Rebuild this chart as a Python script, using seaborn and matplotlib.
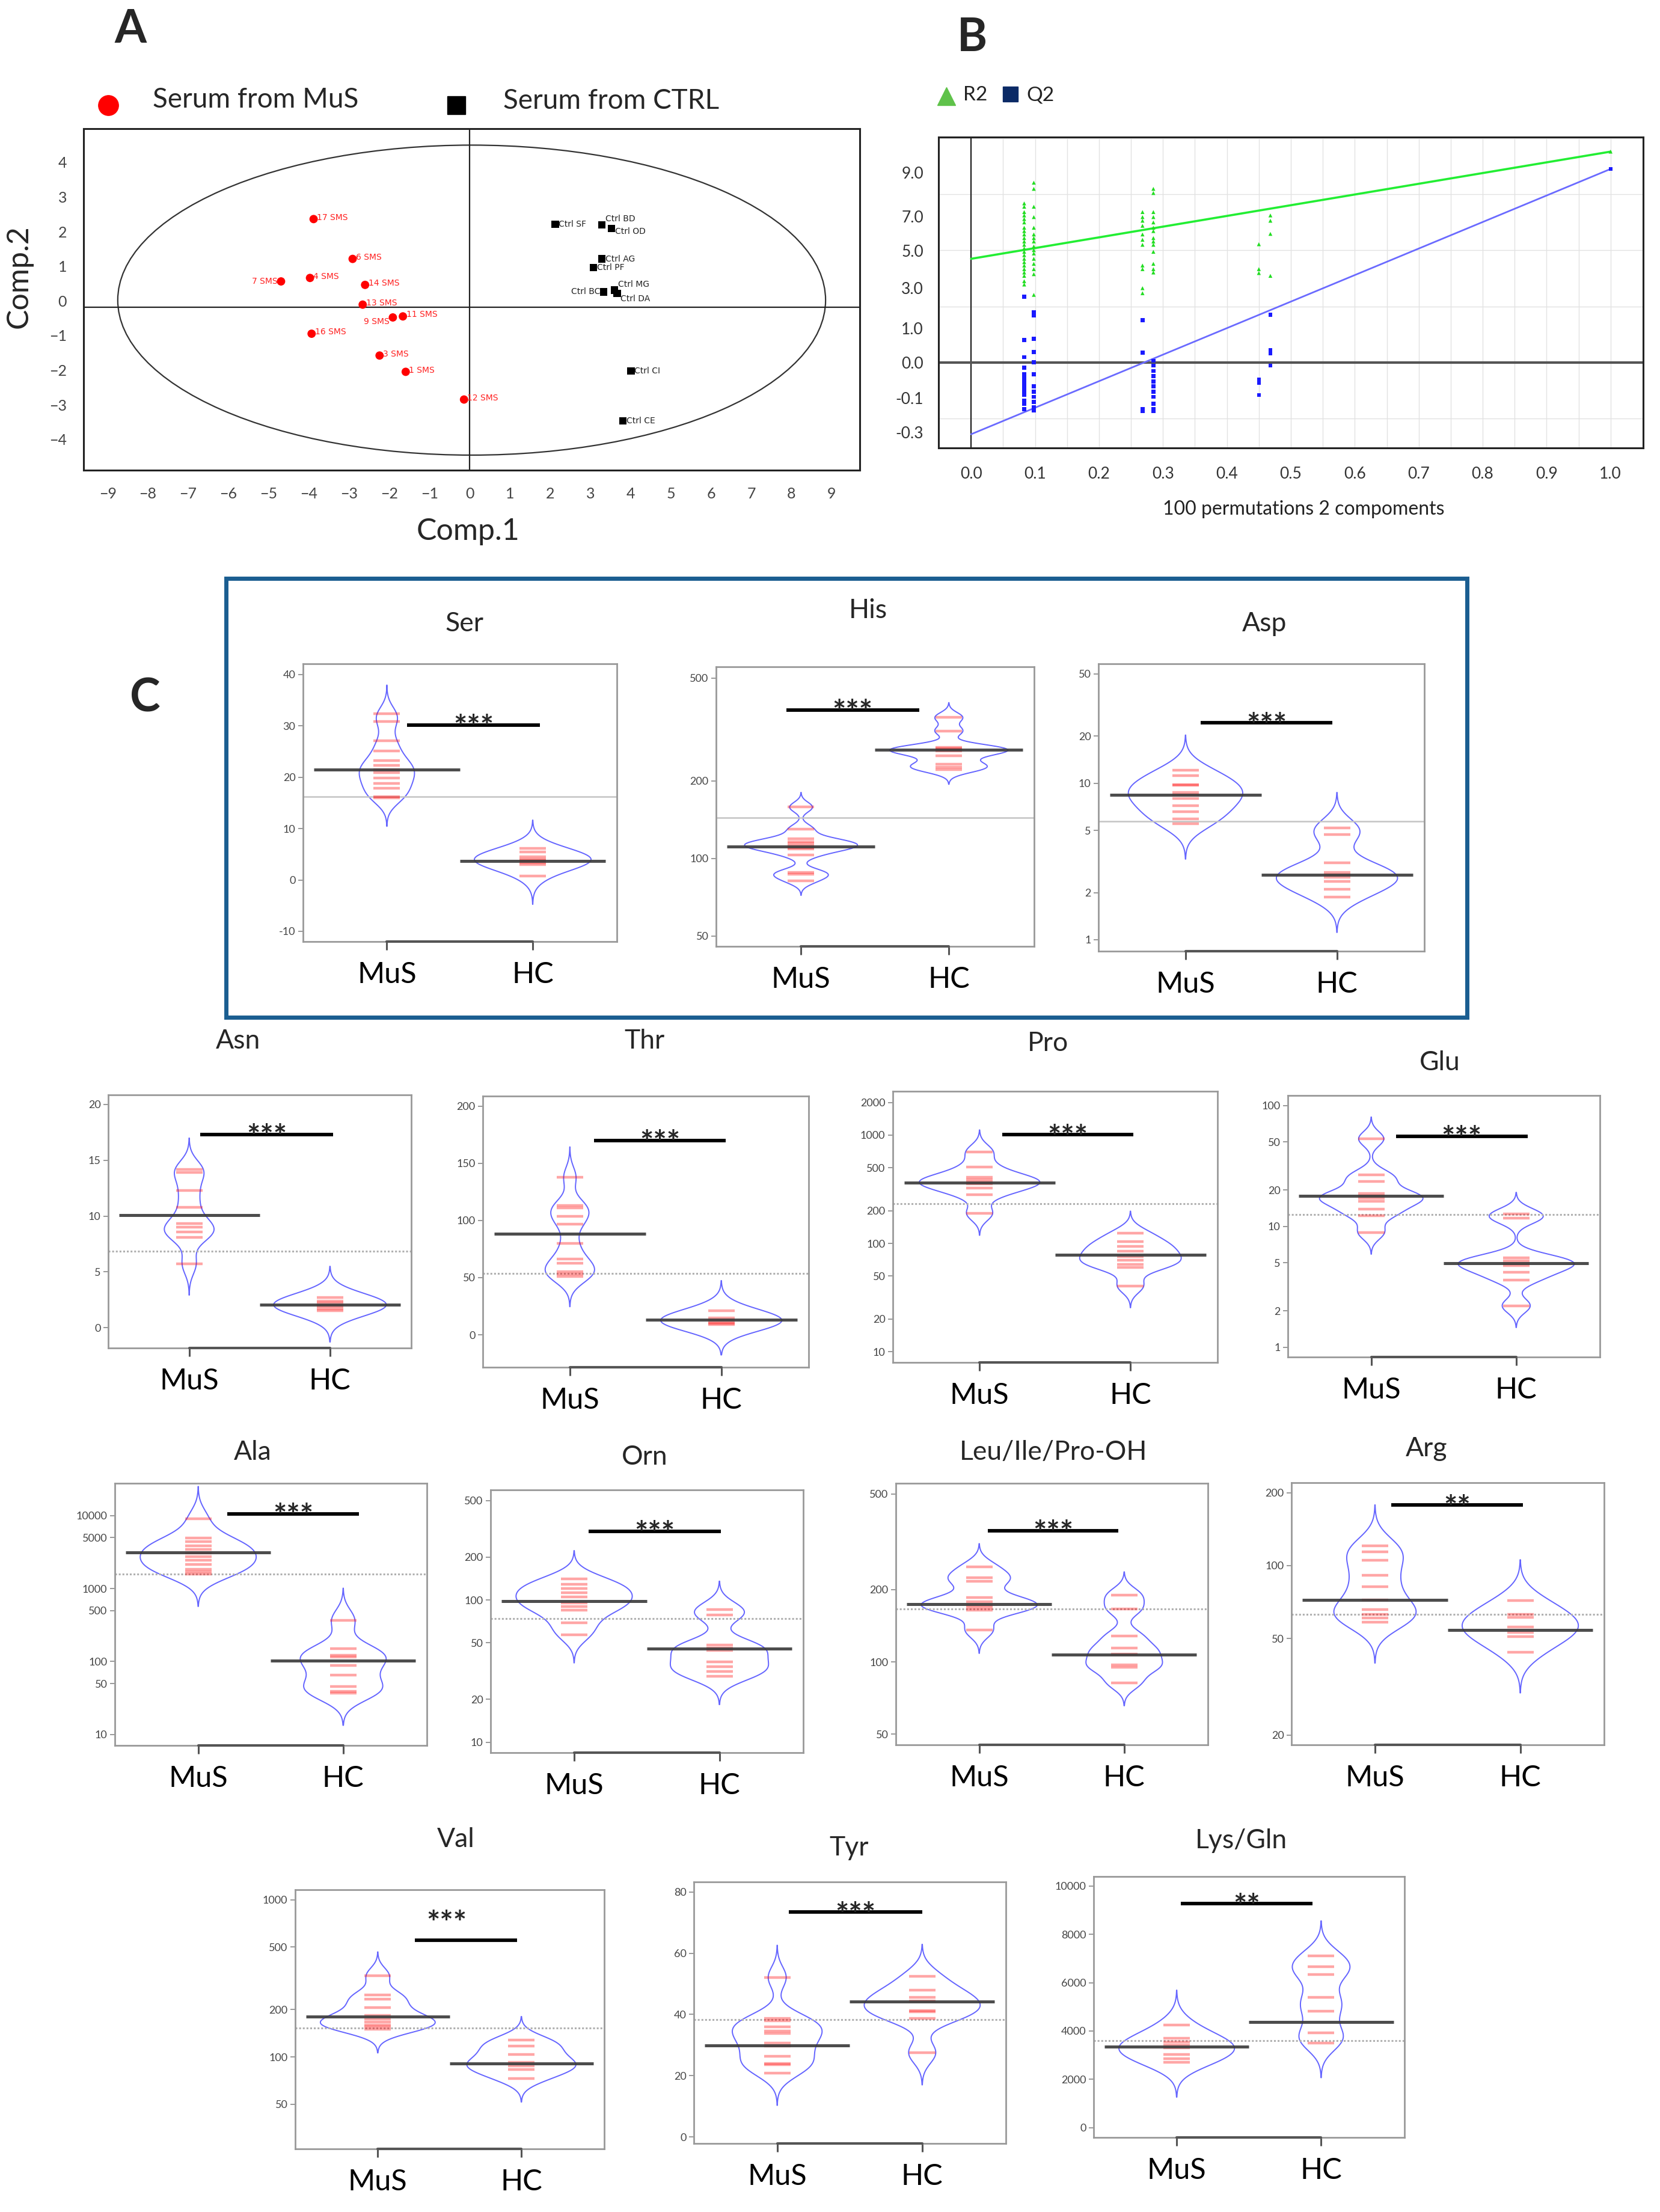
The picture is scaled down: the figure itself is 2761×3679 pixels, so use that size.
import numpy as np
import pandas as pd
import matplotlib
matplotlib.use("Agg")
import matplotlib.pyplot as plt
from matplotlib.patches import Ellipse, Rectangle
from matplotlib.lines import Line2D
from matplotlib.ticker import FixedLocator, NullLocator, AutoMinorLocator, MultipleLocator
import seaborn as sns

sns.set_theme(style="white")
plt.rcParams['font.family'] = ['Lato', 'DejaVu Sans']

# ---------------- Panel A data (PLS-DA scores) ----------------
mus_names = ['17 SMS', '6 SMS', '7 SMS', '4 SMS', '14 SMS', '13 SMS', '9 SMS', '11 SMS',
             '16 SMS', '3 SMS', '1 SMS', '12 SMS']
mus_comp1 = [-3.88, -2.91, -4.69, -3.97, -2.60, -2.66, -1.91, -1.66, -3.93, -2.24, -1.59, -0.14]
mus_comp2 = [2.36, 1.21, 0.56, 0.66, 0.46, -0.11, -0.48, -0.45, -0.95, -1.58, -2.05, -2.85]
ctrl_names = ['Ctrl SF', 'Ctrl BD', 'Ctrl OD', 'Ctrl AG', 'Ctrl PF', 'Ctrl BC', 'Ctrl MG',
              'Ctrl DA', 'Ctrl CI', 'Ctrl CE']
ctrl_comp1 = [2.13, 3.29, 3.53, 3.29, 3.08, 3.33, 3.60, 3.67, 4.01, 3.81]
ctrl_comp2 = [2.21, 2.19, 2.09, 1.21, 0.96, 0.26, 0.31, 0.21, -2.03, -3.47]

# ---------------- Panel B data (permutation test) ----------------
r2_x = ([0.083] * 23 + [0.098] * 16 + [0.268] * 11 + [0.285] * 14 + [0.45] * 3 + [0.468] * 4 + [1.0])
r2_y = [0.568, 0.556, 0.537, 0.525, 0.512, 0.5, 0.481, 0.469, 0.457, 0.444, 0.432, 0.42, 0.407,
        0.395, 0.383, 0.37, 0.358, 0.346, 0.333, 0.321, 0.309, 0.29, 0.278,
        0.642, 0.62, 0.556, 0.519, 0.481, 0.457, 0.444, 0.432, 0.414, 0.401, 0.389, 0.37, 0.352,
        0.333, 0.315, 0.241,
        0.537, 0.519, 0.506, 0.488, 0.457, 0.438, 0.42, 0.346, 0.333, 0.265, 0.247,
        0.62, 0.605, 0.537, 0.519, 0.5, 0.481, 0.469, 0.444, 0.432, 0.42, 0.395, 0.352, 0.333, 0.321,
        0.422, 0.333, 0.319,
        0.525, 0.506, 0.459, 0.309,
        0.753]
q2_x = ([0.083] * 14 + [0.098] * 12 + [0.268] * 4 + [0.285] * 11 + [0.45] * 3 + [0.468] * 4 + [1.0])
q2_y = [0.235, 0.08, 0.019, -0.019, -0.043, -0.056, -0.068, -0.08, -0.093, -0.105, -0.117, -0.136,
        -0.148, -0.167,
        0.179, 0.167, 0.084, 0.037, 0.0, -0.043, -0.086, -0.105, -0.123, -0.142, -0.16, -0.173,
        0.151, 0.035, -0.167, -0.175,
        0.006, -0.012, -0.031, -0.049, -0.068, -0.086, -0.105, -0.123, -0.148, -0.167, -0.175,
        -0.062, -0.074, -0.117,
        0.17, 0.043, 0.031, -0.012,
        0.691]
fit_x = [0.0, 1.0]
r2_fit = [0.37, 0.753]
q2_fit = [-0.257, 0.691]
b_ytick_pos = [0.679, 0.522, 0.399, 0.265, 0.121, 0.0, -0.127, -0.25]
b_ytick_lab = ['9.0', '7.0', '5.0', '3.0', '1.0', '0.0', '-0.1', '-0.3']
b_xticks = [0.0, 0.1, 0.2, 0.3, 0.4, 0.5, 0.6, 0.7, 0.8, 0.9, 1.0]

# ---------------- Panel C data (bean plots) ----------------
groups = ['MuS', 'HC']

ser_mus = [32.4, 30.9, 27.1, 25.1, 23.2, 22.3, 21.5, 20.9, 19.8, 18.8, 17.9, 16.2, 16.0]
ser_hc = [6.1, 5.4, 4.5, 4.1, 3.8, 3.6, 3.3, 3.0, 0.8]
ser_means = [21.5, 3.7]
ser_overall = 16.2

his_mus = [158, 130, 119, 116, 114, 112, 110, 109, 103, 88, 87, 82]
his_hc = [352, 312, 270, 266, 263, 261, 250, 232, 226, 221]
his_means = [111, 264]
his_overall = 144

asp_mus = [12.1, 11.2, 9.8, 9.7, 8.7, 8.4, 8.0, 7.2, 6.6, 5.9, 5.5]
asp_hc = [5.2, 4.7, 3.1, 2.7, 2.6, 2.5, 2.35, 2.1, 1.87]
asp_means = [8.4, 2.6]
asp_overall = 5.7

asn_mus = [14.2, 13.9, 12.3, 10.8, 9.3, 9.0, 8.55, 8.1, 5.7]
asn_hc = [2.7, 2.4, 2.2, 2.0, 1.9, 1.7, 1.5]
asn_means = [10.07, 2.05]
asn_overall = 6.87

thr_mus = [138, 113, 111, 103.5, 97, 80, 66.5, 62.5, 55, 53, 51]
thr_hc = [21, 14.6, 13, 11, 10, 8.8]
thr_means = [88.3, 13.4]
thr_overall = 53.8

pro_mus = [703, 505, 409, 390, 370, 355, 326, 282, 189]
pro_hc = [125, 104, 94, 85, 76, 70, 64, 60, 40.5]
pro_means = [365, 79]
pro_overall = 234

glu_mus = [53, 26.8, 23.6, 18.7, 17.8, 17.0, 16.1, 13.8, 12.3, 8.9]
glu_hc = [12.6, 11.7, 5.5, 5.2, 4.9, 4.7, 4.15, 3.6, 2.2]
glu_means = [17.8, 4.97]
glu_overall = 12.5

ala_mus = [9100, 4930, 4380, 3830, 3460, 3070, 2730, 2430, 2160, 1840, 1700, 1575]
ala_hc = [367, 149, 122, 116, 89, 65, 45.7, 39, 36.9]
ala_means = [3120, 103]
ala_overall = 1575

orn_mus = [141, 129, 120, 112, 105, 95, 90, 85, 69, 57]
orn_hc = [86, 78.6, 48.4, 46, 44.3, 36.9, 34, 31.4, 29]
orn_means = [98.6, 45.7]
orn_overall = 74.3

leu_mus = [249, 224, 217, 185, 178, 172, 168, 164, 135.5]
leu_hc = [190, 166, 128.5, 114, 108, 97, 95, 82]
leu_means = [174, 107]
leu_overall = 166

arg_mus = [121, 114, 105, 91, 82, 72, 66, 63, 60.8, 58.3]
arg_hc = [71.8, 63, 61, 55.8, 53, 50.8, 43.9]
arg_means = [72, 54.2]
arg_overall = 63

val_mus = [330, 249, 234, 207, 184, 175, 167, 160, 155, 150]
val_hc = [128, 117, 104, 92.7, 88, 83, 73]
val_means = [181, 91]
val_overall = 153

tyr_mus = [52.1, 38.8, 38.0, 35.9, 34.5, 33.7, 30.7, 29.6, 26.4, 24.0, 23.6, 20.8]
tyr_hc = [52.4, 47.9, 45.5, 44.5, 41.3, 40.9, 38.8, 27.5]
tyr_means = [29.9, 44.2]
tyr_overall = 38.3

lys_mus = [4251, 3696, 3539, 3435, 3298, 3016, 2859, 2702]
lys_hc = [7120, 6660, 6346, 5393, 4827, 3927, 3508]
lys_means = [3361, 4377]
lys_overall = 3613

# ---------------- layout (pixel boxes in the 2761 x 3679 canvas) ----------------
W, H = 2761, 3679
fig = plt.figure(figsize=(W / 100, H / 100), dpi=100)


def rect(x0, y0, x1, y1):
    return [x0 / W, 1 - y1 / H, (x1 - x0) / W, (y1 - y0) / H]


def ftext(x, y, s, **kw):
    fig.text(x / W, 1 - y / H, s, **kw)


# ======================= Panel A =======================
axA = fig.add_axes(rect(139, 214, 1430, 782))
sns.scatterplot(x=mus_comp1, y=mus_comp2, color='#ff0000', marker='o', s=100,
                edgecolor='none', ax=axA, zorder=3)
sns.scatterplot(x=ctrl_comp1, y=ctrl_comp2, color='black', marker='s', s=80,
                edgecolor='none', ax=axA, zorder=3)
# label offsets (points) so that crowded point labels stay legible
mus_off = {'7 SMS': (-4, 0, 'right'), '9 SMS': (-4, -5, 'right')}
ctrl_off = {'Ctrl BD': (4, 7, 'left'), 'Ctrl OD': (4, -4, 'left'),
            'Ctrl BC': (-4, 0, 'right'), 'Ctrl MG': (4, 7, 'left'), 'Ctrl DA': (4, -6, 'left')}
for n, x, y in zip(mus_names, mus_comp1, mus_comp2):
    dx, dy, ha = mus_off.get(n, (4, 2, 'left'))
    axA.annotate(n, (x, y), xytext=(dx, dy), textcoords='offset points', fontsize=10,
                 color='#ff2020', va='center', ha=ha, family='Liberation Sans Narrow')
for n, x, y in zip(ctrl_names, ctrl_comp1, ctrl_comp2):
    dx, dy, ha = ctrl_off.get(n, (4, 0, 'left'))
    axA.annotate(n, (x, y), xytext=(dx, dy), textcoords='offset points', fontsize=10,
                 color='#222222', va='center', ha=ha, family='Liberation Sans Narrow')
axA.add_patch(Ellipse((0.05, 0.02), 17.6, 8.95, fill=False, ec='#333333', lw=1.6))
axA.axhline(-0.18, color='#222222', lw=1.6)
axA.axvline(0.0, color='#222222', lw=1.6)
axA.set_xlim(-9.6, 9.7)
axA.set_ylim(-4.89, 4.97)
axA.set_xticks(range(-9, 10))
axA.set_yticks(range(-4, 5))
axA.xaxis.set_minor_locator(AutoMinorLocator(3))
axA.yaxis.set_minor_locator(AutoMinorLocator(3))
axA.tick_params(axis='both', which='major', direction='in', length=8, width=1.3,
                labelsize=18, labelcolor='#444444', color='#222222', pad=20)
axA.tick_params(axis='both', which='minor', direction='in', length=4, width=1.0, color='#222222')
for sp in axA.spines.values():
    sp.set_color('#222222')
    sp.set_linewidth(2.2)
axA.set_xlabel('Comp.1', fontsize=36)
axA.set_ylabel('Comp.2', fontsize=36)
axA.xaxis.set_label_coords(0.495, -0.139)
axA.yaxis.set_label_coords(-0.065, 0.567)

ftext(217, 49, 'A', fontsize=55, fontweight='bold', ha='center', va='center')
fig.add_artist(Line2D([180 / W], [1 - 175 / H], marker='o', color='#ff0000', markersize=24,
                      linestyle='none', transform=fig.transFigure))
ftext(254, 166, 'Serum from MuS', fontsize=33, ha='left', va='center')
fig.add_artist(Line2D([759 / W], [1 - 175 / H], marker='s', color='black', markersize=22,
                      linestyle='none', transform=fig.transFigure))
ftext(837, 168, 'Serum from CTRL', fontsize=33, ha='left', va='center')

# ======================= Panel B =======================
axB = fig.add_axes(rect(1561, 228, 2733, 745))
axB.set_xlim(-0.051, 1.051)
axB.set_ylim(-0.306, 0.805)
for gx in np.arange(0.0, 1.0001, 0.05):
    axB.axvline(gx, color='#e2e2e2', lw=1.0, zorder=0)
for gy in [-0.2, 0.2, 0.4, 0.6, 0.8]:
    axB.axhline(gy, color='#e2e2e2', lw=1.0, zorder=0)
axB.axvline(0.0, color='#222222', lw=1.6, zorder=1)
axB.axhline(0.0, color='#555555', lw=3.0, zorder=1)
sns.lineplot(x=fit_x, y=r2_fit, color='#22ee33', lw=2.6, ax=axB, zorder=2)
sns.lineplot(x=fit_x, y=q2_fit, color='#6a6aff', lw=2.0, ax=axB, zorder=2)
sns.scatterplot(x=r2_x, y=r2_y, color='#22dd22', marker='^', s=22, edgecolor='none',
                ax=axB, zorder=3)
sns.scatterplot(x=q2_x, y=q2_y, color='#1a1aff', marker='s', s=22, edgecolor='none',
                ax=axB, zorder=3)
axB.set_xticks(b_xticks)
axB.set_xticklabels(['%.1f' % v for v in b_xticks])
axB.xaxis.set_minor_locator(MultipleLocator(0.05))
axB.yaxis.set_major_locator(FixedLocator(b_ytick_pos))
axB.set_yticklabels(b_ytick_lab)
axB.yaxis.set_minor_locator(MultipleLocator(0.05))
axB.tick_params(axis='both', which='major', direction='in', length=6, width=1.2,
                labelsize=19, labelcolor='#333333', color='#222222')
axB.tick_params(axis='x', which='major', pad=22)
axB.tick_params(axis='y', which='major', pad=18)
axB.tick_params(axis='both', which='minor', direction='in', length=4, width=1.0, color='#222222')
for sp in axB.spines.values():
    sp.set_color('#222222')
    sp.set_linewidth(2.2)
axB.set_xlabel('100 permutations 2 compoments', fontsize=23, color='#222222')
axB.xaxis.set_label_coords(0.518, -0.168)

ftext(1617, 63, 'B', fontsize=55, fontweight='bold', ha='center', va='center')
fig.add_artist(Line2D([1574 / W], [1 - 160 / H], marker='^', color='#5fc24a', markersize=22,
                      linestyle='none', transform=fig.transFigure))
ftext(1602, 158, 'R2', fontsize=24, ha='left', va='center', color='#222222')
fig.add_artist(Line2D([1680 / W], [1 - 156 / H], marker='s', color='#0b2a66', markersize=18,
                      linestyle='none', transform=fig.transFigure))
ftext(1707, 158, 'Q2', fontsize=24, ha='left', va='center', color='#222222')

# ======================= Panel C =======================
fig.add_artist(Rectangle((376 / W, 1 - 1692 / H), (2440 - 376) / W, (1692 - 962) / H,
                         transform=fig.transFigure, fill=False, ec='#1b5e91', lw=5))
ftext(241, 1161, 'C', fontsize=55, fontweight='bold', ha='center', va='center')

panels = [
    # name, mus, hc, means, overall, log, ylim, yticks, sig, sig_y, sig_x, box, title_xy,
    # solid_overall, star_xy, common bandwidth (kde space)
    ('Ser', ser_mus, ser_hc, ser_means, ser_overall, False, (-12, 42.1), [-10, 0, 10, 20, 30, 40],
     '***', 30.2, (0.14, 1.05), (504, 1104, 1026, 1566), (772, 1038), True, None, 1.85),
    ('His', his_mus, his_hc, his_means, his_overall, True, (45.6, 553), [50, 100, 200, 500],
     '***', 376, (-0.10, 0.80), (1191, 1109, 1720, 1574), (1444, 1015), True, None, 0.019),
    ('Asp', asp_mus, asp_hc, asp_means, asp_overall, True, (0.845, 58), [1, 2, 5, 10, 20, 50],
     '***', 24.3, (0.10, 0.97), (1827, 1104, 2369, 1582), (2103, 1038), True, None, 0.075),
    ('Asn', asn_mus, asn_hc, asn_means, asn_overall, False, (-1.83, 20.86), [0, 5, 10, 15, 20],
     '***', 17.3, (0.08, 1.02), (180, 1821, 684, 2242), (396, 1732), False, None, 0.93),
    ('Thr', thr_mus, thr_hc, thr_means, thr_overall, False, (-28.4, 208.9), [0, 50, 100, 150, 200],
     '***', 170, (0.16, 1.03), (803, 1823, 1345, 2274), (1072, 1732), False, None, 8.8),
    ('Pro', pro_mus, pro_hc, pro_means, pro_overall, True, (7.96, 2543),
     [10, 20, 50, 100, 200, 500, 1000, 2000],
     '***', 1007, (0.15, 1.02), (1485, 1815, 2025, 2266), (1743, 1735), False, None, 0.067),
    ('Glu', glu_mus, glu_hc, glu_means, glu_overall, True, (0.828, 121), [1, 2, 5, 10, 20, 50, 100],
     '***', 55.8, (0.17, 1.08), (2142, 1822, 2661, 2257), (2395, 1768), False, None, 0.06),
    ('Ala', ala_mus, ala_hc, ala_means, ala_overall, True, (7.08, 27800),
     [10, 50, 100, 500, 1000, 5000, 10000],
     '***', 10560, (0.20, 1.11), (191, 2467, 710, 2903), (420, 2415), False, None, 0.147),
    ('Orn', orn_mus, orn_hc, orn_means, orn_overall, True, (8.44, 595), [10, 20, 50, 100, 200, 500],
     '***', 304, (0.10, 1.01), (816, 2478, 1336, 2915), (1072, 2424), False, None, 0.066),
    ('Leu/Ile/Pro-OH', leu_mus, leu_hc, leu_means, leu_overall, True, (45.2, 554),
     [50, 100, 200, 500],
     '***', 351, (0.06, 0.96), (1490, 2467, 2009, 2902), (1752, 2415), False, None, 0.032),
    ('Arg', arg_mus, arg_hc, arg_means, arg_overall, True, (18.2, 220), [20, 50, 100, 200],
     '**', 177.6, (0.11, 1.02), (2148, 2466, 2668, 2902), (2373, 2409), False, None, 0.056),
    ('Val', val_mus, val_hc, val_means, val_overall, True, (26, 1160), [50, 100, 200, 500, 1000],
     '***', 553, (0.26, 0.97), (491, 3143, 1005, 3574), (758, 3060), False, (0.48, 738), 0.05),
    ('Tyr', tyr_mus, tyr_hc, tyr_means, tyr_overall, False, (-2.15, 83.3), [0, 20, 40, 60, 80],
     '***', 73.4, (0.08, 1.0), (1154, 3130, 1673, 3565), (1412, 3073), False, None, 3.5),
    ('Lys/Gln', lys_mus, lys_hc, lys_means, lys_overall, False, (-408, 10398),
     [0, 2000, 4000, 6000, 8000, 10000],
     '**', 9267, (0.03, 0.94), (1819, 3121, 2336, 3555), (2064, 3062), False, None, 480),
]


def kde_peak(v, bw):
    grid = np.linspace(v.min() - 3 * bw, v.max() + 3 * bw, 400)
    d = np.exp(-0.5 * ((grid[:, None] - v[None, :]) / bw) ** 2).sum(axis=1)
    return d.max() / (len(v) * bw)


for (name, mus, hc, means, overall, logy, ylim, yticks, sig, sig_y, sig_x, box, title_xy,
     solid, star_xy, bw) in panels:
    ax = fig.add_axes(rect(*box))
    df = pd.DataFrame({'group': ['MuS'] * len(mus) + ['HC'] * len(hc),
                       'value': list(mus) + list(hc)})
    # common bandwidth across the two beans, area-normalised widths
    sets = [np.asarray(mus, float), np.asarray(hc, float)]
    kspace = [np.log10(s) if logy else s for s in sets]
    peaks = [kde_peak(k, bw) for k in kspace]
    pmax = max(peaks)
    for g, vals, k, pk in zip(groups, sets, kspace, peaks):
        sns.violinplot(x=[g] * len(vals), y=vals, order=groups, inner=None, fill=False,
                       color='#6464ff', linewidth=1.4, density_norm='width',
                       width=0.8 * pk / pmax, cut=3, bw_method=bw / np.std(k, ddof=1),
                       bw_adjust=1, log_scale=(True if logy else None), ax=ax)
    # overall line
    if solid:
        ax.axhline(overall, color='#c4c4c4', lw=1.8, zorder=1)
    else:
        ax.axhline(overall, color='#b0b0b0', lw=2.2, ls=(0, (1, 1)), zorder=1)
    # bean lines (individual observations)
    sns.scatterplot(data=df, x='group', y='value', marker='_', s=32 ** 2, color='#ff0000',
                    alpha=0.35, linewidth=3.2, ax=ax, zorder=3, legend=False)
    # group means
    for i, m in enumerate(means):
        ax.hlines(m, i - 0.5, i + 0.5, color='#3a3a3a', lw=3.6, alpha=0.9, zorder=4)
    # significance bar
    ax.hlines(sig_y, sig_x[0], sig_x[1], color='black', lw=4.2, zorder=5)
    if star_xy is None:
        ax.annotate(sig, ((sig_x[0] + sig_x[1]) / 2, sig_y), xytext=(0, -16),
                    textcoords='offset points', ha='center', va='baseline', fontsize=38,
                    fontweight='bold', zorder=6)
    else:
        ax.annotate(sig, star_xy, xytext=(0, -16), textcoords='offset points', ha='center',
                    va='baseline', fontsize=38, fontweight='bold', zorder=6)

    ax.set_xlim(-0.575, 1.577)
    ax.set_ylim(*ylim)
    ax.yaxis.set_major_locator(FixedLocator(yticks))
    ax.yaxis.set_minor_locator(NullLocator())
    ax.set_yticklabels([str(t) for t in yticks])
    ax.set_xticks([0, 1])
    ax.set_xticklabels(groups)
    ax.set_xlabel('')
    ax.set_ylabel('')
    ax.tick_params(axis='y', which='major', direction='out', length=6, width=1.2,
                   color='#888888', labelsize=13, labelcolor='#444444', pad=3, left=True)
    ax.tick_params(axis='x', which='major', direction='out', length=10, width=2.2,
                   color='#555555', labelsize=35, labelcolor='black', pad=14, bottom=True)
    for sp in ax.spines.values():
        sp.set_color('#999999')
        sp.set_linewidth(2.0)
    ax.plot([0, 1], [0, 0], transform=ax.get_xaxis_transform(), color='#555555', lw=3.0,
            clip_on=False, zorder=6)
    ftext(title_xy[0], title_xy[1], name, fontsize=32, ha='center', va='center')

fig.savefig('out.png', dpi=100)
